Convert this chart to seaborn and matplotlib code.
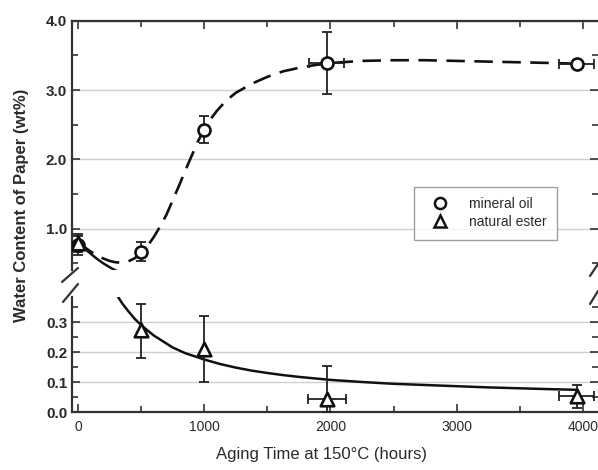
import matplotlib
matplotlib.use("Agg")
import matplotlib.pyplot as plt
from matplotlib.lines import Line2D
from matplotlib.ticker import MultipleLocator, FormatStrFormatter
import seaborn as sns
import pandas as pd

# ---- data ----
mo_x = [0, 500, 1000, 1970, 3950]
mo_y = [0.76, 0.67, 2.43, 3.39, 3.38]
mo_yerr = [0.14, 0.14, 0.20, 0.45, 0.06]
mo_xerr = [0, 0, 0, 140, 140]

ne_x = [0, 500, 1000, 1970, 3950]
ne_y = [0.80, 0.273, 0.211, 0.044, 0.054]
ne_yerr_lo = [0.13, 0.093, 0.112, 0.044, 0.040]
ne_yerr_hi = [0.13, 0.088, 0.109, 0.108, 0.036]
ne_xerr = [0, 0, 0, 150, 140]

# fitted curves
mo_curve_x = [0, 50, 100, 150, 200, 250, 300, 350, 400, 450, 500, 550, 600, 650,
              700, 750, 800, 850, 900, 950, 1000, 1050, 1100, 1175, 1250, 1375,
              1500, 1625, 1750, 1875, 2000, 2250, 2500, 2750, 3000, 3250, 3500,
              3750, 3950]
mo_curve_y = [0.80, 0.735, 0.67, 0.62, 0.57, 0.535, 0.515, 0.51, 0.53, 0.575, 0.64,
              0.75, 0.88, 1.03, 1.20, 1.41, 1.62, 1.84, 2.05, 2.26, 2.43, 2.58,
              2.70, 2.85, 2.96, 3.09, 3.19, 3.27, 3.32, 3.36, 3.39, 3.42, 3.43,
              3.43, 3.42, 3.41, 3.40, 3.39, 3.38]
ne_curve_x = [0, 50, 100, 150, 200, 250, 300, 350, 400, 450, 500, 550, 600, 675,
              750, 850, 1000, 1125, 1250, 1375, 1500, 1625, 1750, 1875, 2000,
              2250, 2500, 2750, 3000, 3250, 3500, 3750, 3950]
ne_curve_y = [0.80, 0.715, 0.64, 0.565, 0.50, 0.445, 0.395, 0.362, 0.335, 0.31,
              0.29, 0.272, 0.255, 0.235, 0.215, 0.196, 0.175, 0.16, 0.148, 0.138,
              0.130, 0.123, 0.117, 0.112, 0.107, 0.100, 0.094, 0.090, 0.086,
              0.082, 0.079, 0.076, 0.074]

top_ticks = [1.0, 2.0, 3.0, 4.0]
bot_ticks = [0.0, 0.1, 0.2, 0.3]
x_ticks = [0, 1000, 2000, 3000, 4000]

sns.set_style("white")
plt.rcParams['font.family'] = ['Liberation Sans', 'DejaVu Sans']

W, H = 598, 470
fig = plt.figure(figsize=(W / 100, H / 100), dpi=100)

def fx(px):
    return px / W

def fy(py):
    return 1 - py / H

ax_t = fig.add_axes([fx(72), fy(270.3), fx(598) - fx(72), fy(20.7) - fy(270.3)])
ax_b = fig.add_axes([fx(72), fy(412), fx(598) - fx(72), fy(296.5) - fy(412)])

txt = '#2a2a2a'
grid_c = '#cfcfcf'

for ax in (ax_t, ax_b):
    ax.set_xlim(-48, 4120)
    ax.yaxis.grid(True, color=grid_c, lw=1.0, zorder=0)
    ax.xaxis.grid(False)
    ax.set_axisbelow(True)
    for s in ax.spines.values():
        s.set_color('#333333')
        s.set_linewidth(1.6)
    ax.xaxis.set_major_locator(MultipleLocator(1000))
    ax.xaxis.set_minor_locator(MultipleLocator(500))
    ax.tick_params(which='both', direction='in', color='#333333', width=1.2,
                   left=True, right=True)
    ax.tick_params(which='major', length=6)
    ax.tick_params(which='minor', length=4)

# top axis
ax_t.set_ylim(0.4, 4.0)
ax_t.set_yticks(top_ticks)
ax_t.yaxis.set_minor_locator(MultipleLocator(0.5))
ax_t.yaxis.set_major_formatter(FormatStrFormatter('%.1f'))
ax_t.spines['bottom'].set_visible(False)
ax_t.spines['right'].set_visible(False)
ax_t.tick_params(axis='x', which='both', bottom=False, top=True, labelbottom=False)
ax_t.tick_params(axis='y', labelsize=11, labelcolor=txt)

# bottom axis
ax_b.set_ylim(0.0, 0.385)
ax_b.set_yticks(bot_ticks)
ax_b.yaxis.set_minor_locator(MultipleLocator(0.05))
ax_b.yaxis.set_major_formatter(FormatStrFormatter('%.1f'))
ax_b.spines['top'].set_visible(False)
ax_b.spines['right'].set_visible(False)
ax_b.set_xticks(x_ticks)
ax_b.tick_params(axis='x', which='both', bottom=True, top=False, labelsize=10,
                 labelcolor=txt, pad=6)
ax_b.tick_params(axis='y', labelsize=11, labelcolor=txt)

# curves
for ax in (ax_t, ax_b):
    sns.lineplot(x=mo_curve_x, y=mo_curve_y, ax=ax, color='#111111', lw=1.9,
                 linestyle=(0, (7, 3.6)), sort=False, zorder=2)
    sns.lineplot(x=ne_curve_x, y=ne_curve_y, ax=ax, color='#111111', lw=1.8,
                 sort=False, zorder=2)

# error bars + markers
mo_df = pd.DataFrame({'x': mo_x, 'y': mo_y})
ne_df = pd.DataFrame({'x': ne_x, 'y': ne_y})
for ax in (ax_t, ax_b):
    ax.errorbar(mo_x, mo_y, yerr=mo_yerr, xerr=mo_xerr, fmt='none',
                ecolor='#222222', elinewidth=1.3, capsize=3.5, capthick=1.3, zorder=3)
    ax.errorbar(ne_x, ne_y, yerr=[ne_yerr_lo, ne_yerr_hi], xerr=ne_xerr, fmt='none',
                ecolor='#222222', elinewidth=1.3, capsize=3.5, capthick=1.3, zorder=3)
    sns.scatterplot(data=mo_df, x='x', y='y', ax=ax, marker='o', s=75,
                    facecolor='white', edgecolor='#111111', linewidth=1.9, zorder=4)
    sns.scatterplot(data=ne_df, x='x', y='y', ax=ax, marker='^', s=95,
                    facecolor='white', edgecolor='#111111', linewidth=1.9, zorder=5)
    ax.set_xlabel('')
    ax.set_ylabel('')

for ax in (ax_t, ax_b):
    for lab in ax.get_yticklabels():
        lab.set_fontweight('bold')

# legend
handles = [
    Line2D([], [], linestyle='none', marker='o', markersize=8, markerfacecolor='white',
           markeredgecolor='#111111', markeredgewidth=1.8),
    Line2D([], [], linestyle='none', marker='^', markersize=9, markerfacecolor='white',
           markeredgecolor='#111111', markeredgewidth=1.8),
]
leg = ax_t.legend(handles, ['mineral oil', 'natural ester'], loc='upper left',
                  bbox_to_anchor=(0.65, 0.335), frameon=True, fancybox=False,
                  fontsize=10, handletextpad=0.9, borderpad=0.75, labelspacing=0.3,
                  handlelength=2.3, borderaxespad=0)
leg.get_frame().set_edgecolor('#888888')
leg.get_frame().set_linewidth(1.0)
for t in leg.get_texts():
    t.set_color(txt)

# break marks
def brk(x0, y0, x1, y1):
    fig.add_artist(Line2D([fx(x0), fx(x1)], [fy(y0), fy(y1)], color='#333333', lw=1.6,
                          transform=fig.transFigure, clip_on=False))

brk(62, 282, 78, 268)
brk(63, 302, 78, 284)
brk(590, 276, 598, 264)
brk(590, 304, 598, 291)

# axis labels
fig.text(fx(22), fy(205), 'Water Content of Paper (wt%)', rotation=90,
         ha='center', va='center', fontsize=12, fontweight='bold', color=txt)
fig.text(fx(322), fy(455), 'Aging Time at 150\u00b0C (hours)', ha='center',
         va='center', fontsize=12, color=txt)

fig.savefig('out.png', dpi=100)
